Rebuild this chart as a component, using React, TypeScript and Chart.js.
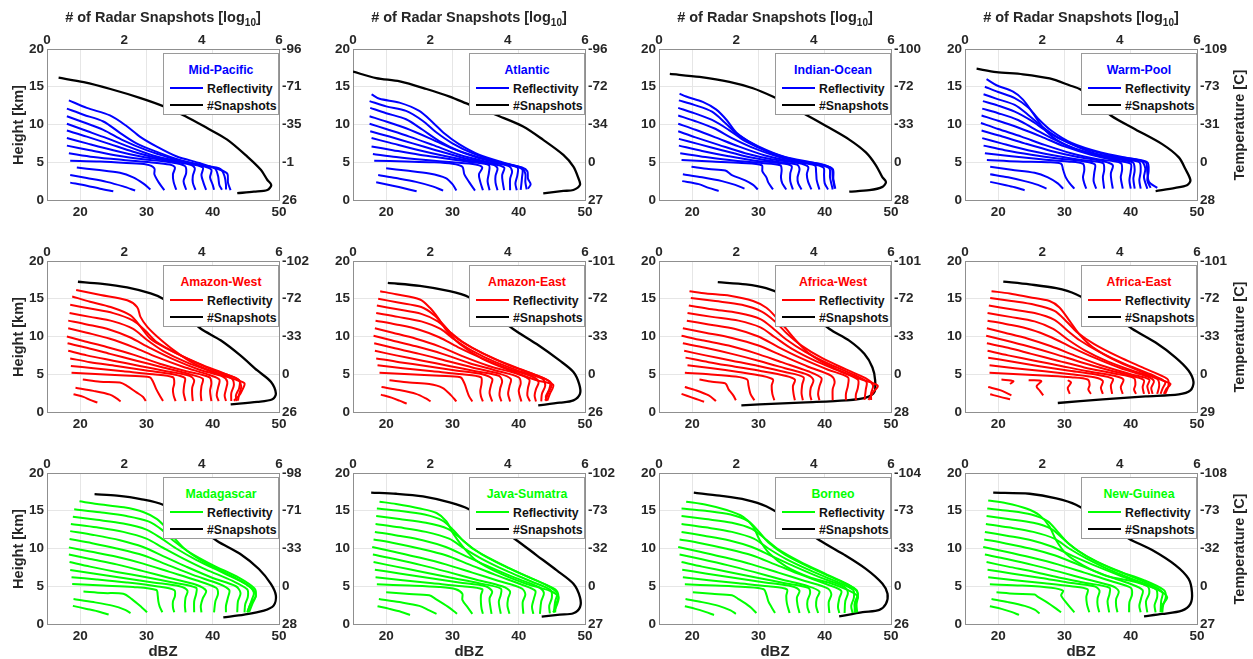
import { useEffect, useRef } from "react";
import { Chart, registerables } from "chart.js";

Chart.register(...registerables);

// ---------- axis ticks ----------
const dbzTicks = [20, 30, 40, 50];
const heightTicks = [0, 5, 10, 15, 20];
const snapshotTicks = [0, 2, 4, 6];

// ---------- data: reflectivity curves as [dBZ, km, dBZ, km, ...]; snapshots as [log10, km, ...] ----------
const midPacificRefl: number[][] = [
  [18.5, 2.3, 21, 1.9, 23, 1.5, 25, 1.15],
  [18.5, 3.3, 21, 2.9, 24, 2.4, 26.5, 1.8, 28.3, 1.25],
  [19.5, 4.3, 22.5, 4.0, 26, 3.6, 28, 3.0, 29.5, 2.2, 30.6, 1.4],
  [18.5, 5.2, 23, 5.1, 27, 4.9, 30, 4.7, 31.2, 4.2, 31.2, 3.4, 31.8, 2.4, 32.7, 1.3],
  [18.3, 6.2, 22, 5.7, 26.5, 5.3, 30.5, 5.0, 33.5, 4.7, 34.3, 4.3, 34, 3.4, 34.1, 2.4, 34.5, 1.35],
  [18, 7.2, 21.5, 6.6, 25.5, 5.9, 29.5, 5.4, 33.5, 5.0, 35.8, 4.5, 36, 3.6, 35.6, 2.5, 36, 1.35],
  [18, 8.2, 21, 7.5, 25, 6.6, 29, 5.8, 33, 5.2, 36.5, 4.7, 37.3, 4.2, 37, 3.2, 37, 2.3, 37.4, 1.35],
  [18, 9.2, 21, 8.4, 24.5, 7.4, 28, 6.4, 32, 5.5, 36, 4.9, 38.5, 4.3, 38.3, 3.3, 38.6, 2.3, 39, 1.35],
  [18, 10.1, 20.5, 9.3, 24, 8.2, 27.5, 7.0, 31, 5.9, 35, 5.1, 38.5, 4.5, 39.8, 4.0, 39.6, 3.0, 40, 2.0, 40.2, 1.35],
  [18, 11.1, 20.5, 10.3, 23.5, 9.3, 26.5, 7.9, 30, 6.6, 33.5, 5.6, 37, 4.8, 40.3, 4.2, 40.8, 3.2, 41, 2.0, 41.4, 1.35],
  [18, 12.1, 20.5, 11.3, 23.5, 10.4, 26, 8.9, 28.5, 7.5, 31.5, 6.4, 35, 5.3, 38.5, 4.6, 41.2, 4.1, 41.8, 3.1, 42, 2.0, 42, 1.4],
  [18.3, 13.2, 21, 12.2, 24.5, 11.2, 27, 9.8, 29, 8.4, 31.5, 7.1, 34.5, 5.8, 38, 4.9, 40.8, 4.1, 42.2, 3.5, 42.3, 2.3, 42.7, 1.3],
];
const midPacificSnap = [0.3, 16.2, 0.95, 15.6, 1.64, 14.7, 2.42, 13.5, 3.02, 12.4, 3.58, 11.1, 4.15, 9.5, 4.66, 8.0, 5.18, 5.75, 5.53, 4.0, 5.7, 2.65, 5.8, 2.0, 5.7, 1.33, 5.35, 1.1, 4.92, 0.9];
const midPacificTemp = ["26", "-1", "-35", "-71", "-96"];

const atlanticRefl: number[][] = [
  [18.5, 2.35, 21, 1.9, 23, 1.5, 24.6, 1.15],
  [18.8, 3.3, 21.5, 2.9, 24.5, 2.4, 27, 1.8, 28.6, 1.25],
  [20, 4.2, 23, 3.9, 26.5, 3.5, 29, 2.9, 30, 2.1, 30.6, 1.25],
  [18.2, 5.2, 23, 5.1, 27, 5.0, 30, 4.8, 31.5, 4.4, 31.8, 3.4, 32.5, 2.4, 33.4, 1.25],
  [18, 6.1, 21.5, 5.7, 26, 5.3, 30, 5.0, 33.5, 4.7, 34.5, 4.3, 34, 3.4, 34.2, 2.4, 34.6, 1.3],
  [17.8, 7.1, 21, 6.6, 25, 6.0, 29, 5.5, 33, 5.0, 35.5, 4.6, 35.5, 3.6, 35.3, 2.5, 35.6, 1.3],
  [17.8, 8.2, 20.5, 7.6, 24.5, 6.7, 28.5, 5.9, 32.5, 5.2, 36, 4.7, 36.8, 4.2, 36.5, 3.2, 36.5, 2.3, 36.8, 1.3],
  [17.6, 9.1, 20.5, 8.4, 24, 7.5, 27.5, 6.6, 31.5, 5.6, 35.5, 4.9, 37.8, 4.3, 37.5, 3.3, 37.6, 2.3, 37.8, 1.3],
  [17.5, 10.1, 20, 9.4, 23.5, 8.4, 27, 7.3, 31, 6.0, 35, 5.1, 38.5, 4.5, 39, 3.8, 38.7, 2.8, 38.7, 1.3],
  [17.5, 11.1, 20, 10.4, 23, 9.5, 26.5, 8.2, 30, 6.8, 33.5, 5.7, 37, 4.9, 39.8, 4.3, 39.8, 3.3, 39.5, 2.2, 39.7, 1.3],
  [17.6, 12.2, 20, 11.5, 23, 10.7, 25.5, 9.3, 28, 7.8, 31, 6.5, 35, 5.4, 38.5, 4.7, 40.5, 4.1, 40.5, 3.0, 40.3, 1.35],
  [17.5, 13.1, 20, 12.4, 23, 11.8, 25.5, 10.5, 27.5, 9.0, 30, 7.5, 33, 6.2, 37, 5.0, 40.3, 4.3, 41, 3.5, 41, 2.4, 41.2, 1.4],
  [17.8, 14.0, 19, 13.4, 22, 12.9, 25, 11.8, 27, 10.3, 28.8, 8.8, 31, 7.4, 34, 6.0, 37.5, 5.0, 40.5, 4.3, 41.3, 3.8, 41.4, 2.8, 41.8, 2.1, 41.4, 1.5],
];
const atlanticSnap = [0, 17.0, 0.6, 16.15, 1.21, 15.7, 1.9, 14.7, 2.5, 13.7, 3.02, 12.6, 3.8, 11.06, 4.4, 9.73, 4.92, 7.96, 5.44, 5.97, 5.7, 4.42, 5.83, 2.88, 5.87, 2.0, 5.7, 1.33, 5.44, 1.2, 4.92, 0.88];
const atlanticTemp = ["27", "0", "-34", "-72", "-96"];

const indianOceanRefl: number[][] = [
  [18.5, 2.5, 21, 2.1, 22.5, 1.6, 24, 1.2],
  [18.6, 3.4, 21.5, 3.0, 24.5, 2.5, 26.5, 2.0, 27.9, 1.5],
  [19.9, 4.4, 22.5, 4.1, 25, 3.9, 26, 3.3, 28, 2.6, 29.2, 2.0, 29.9, 1.4],
  [18.4, 5.3, 23, 5.1, 27.5, 4.9, 30.5, 4.6, 30.6, 3.8, 31.2, 3.0, 31.5, 2.3, 32.2, 1.4],
  [18.2, 6.2, 22, 5.7, 26.5, 5.2, 30.5, 4.9, 33.3, 4.6, 33.5, 4.0, 33.4, 3.0, 33.6, 2.2, 34.2, 1.4],
  [18, 7.2, 21.5, 6.5, 25.5, 5.8, 29.5, 5.2, 33, 4.9, 35, 4.5, 34.8, 3.5, 34.8, 2.5, 35.2, 1.4],
  [18, 8.1, 21, 7.4, 24.5, 6.6, 28.5, 5.7, 32.5, 5.1, 35.8, 4.7, 36.2, 4.1, 35.9, 3.0, 36, 2.2, 36.5, 1.4],
  [17.9, 9.1, 20.5, 8.3, 24, 7.3, 28, 6.2, 32, 5.4, 36, 4.9, 37.5, 4.4, 37.3, 3.4, 37.5, 2.4, 38, 1.4],
  [17.9, 10.1, 20.5, 9.3, 23.5, 8.3, 27, 7.1, 31, 5.9, 35, 5.1, 38.5, 4.6, 38.7, 3.7, 38.8, 2.6, 39.2, 1.4],
  [17.9, 11.2, 20.3, 10.5, 23.3, 9.5, 26, 8.2, 29.5, 6.8, 33.5, 5.6, 37.5, 4.9, 39.8, 4.3, 39.9, 3.3, 40, 2.2, 40.5, 1.4],
  [17.9, 12.2, 20.3, 11.5, 23, 10.6, 25.5, 9.3, 28, 7.8, 31.5, 6.4, 35.5, 5.3, 39, 4.7, 40.7, 4.2, 40.8, 3.0, 41.2, 1.4],
  [18, 13.2, 20.3, 12.6, 23, 11.7, 25, 10.2, 27, 8.6, 30, 7.1, 34, 5.7, 38.5, 4.9, 41, 4.2, 41.2, 3.0, 41.5, 1.5],
  [18.1, 14.1, 19.1, 13.7, 21.6, 13.0, 23.6, 12.0, 25.2, 10.6, 26.7, 8.9, 29.2, 7.4, 32.2, 6.1, 35.7, 5.2, 39.2, 4.8, 41.2, 4.1, 41.3, 2.8, 41.6, 1.5],
];
const indianOceanSnap = [0.28, 16.7, 1.05, 16.3, 1.82, 15.65, 2.43, 14.8, 2.94, 13.7, 3.4, 12.5, 3.8, 11.3, 4.32, 9.8, 4.92, 8.0, 5.35, 6.3, 5.61, 4.6, 5.78, 3.0, 5.87, 2.4, 5.78, 1.74, 5.44, 1.3, 4.92, 1.1];
const indianOceanTemp = ["28", "0", "-33", "-72", "-100"];

const warmPoolRefl: number[][] = [
  [18.8, 2.4, 21, 2.0, 22.5, 1.7, 24, 1.3],
  [18.8, 3.4, 21.5, 3.0, 24, 2.5, 26, 2.0, 27.3, 1.5],
  [18.8, 4.4, 22, 4.0, 25.5, 3.6, 27.5, 3.0, 29, 2.2, 29.8, 1.5],
  [18.3, 5.3, 23, 5.1, 27.5, 5.0, 29.5, 4.8, 29.8, 4.0, 30.2, 3.0, 30.8, 2.2, 31.5, 1.5],
  [18, 6.2, 22, 5.8, 26.5, 5.4, 30.5, 5.1, 32.8, 4.8, 33, 4.0, 32.8, 3.0, 33, 2.2, 33.3, 1.5],
  [17.8, 7.2, 21, 6.6, 25, 6.0, 29, 5.5, 33, 5.1, 34.6, 4.7, 34.5, 3.6, 34.4, 2.5, 34.8, 1.5],
  [17.6, 8.2, 20.5, 7.5, 24.5, 6.6, 28.5, 5.9, 32.5, 5.3, 35.8, 4.9, 36, 4.0, 35.8, 3.0, 36, 1.5],
  [17.5, 9.2, 20.3, 8.5, 24, 7.5, 28, 6.5, 32, 5.7, 36, 5.1, 37.3, 4.6, 37, 3.5, 37.1, 2.5, 37.3, 1.5],
  [17.4, 10.2, 20, 9.4, 23.5, 8.4, 27, 7.3, 31, 6.2, 35, 5.4, 38.5, 4.9, 38.7, 4.0, 38.5, 3.0, 38.8, 1.5],
  [17.5, 11.2, 20, 10.5, 23, 9.6, 26.5, 8.4, 30, 7.1, 34, 6.0, 38, 5.2, 40, 4.8, 40, 3.8, 39.8, 2.6, 40, 1.5],
  [17.6, 12.1, 20, 11.5, 23, 10.6, 25.5, 9.4, 28.5, 8.0, 32, 6.7, 36.5, 5.6, 40.3, 5.0, 40.6, 4.0, 40.4, 2.8, 40.6, 1.5],
  [17.7, 13.1, 20, 12.5, 22.5, 11.7, 25, 10.5, 27.5, 9.0, 30.5, 7.6, 34.5, 6.2, 39, 5.4, 41.3, 5.0, 41.5, 3.8, 41.3, 2.6, 41.5, 1.5],
  [17.8, 14.0, 19.8, 13.4, 22.5, 12.6, 24.5, 11.3, 26.5, 9.8, 29, 8.3, 33, 6.8, 37.5, 5.8, 41.5, 5.2, 42.2, 4.2, 42, 3.0, 42.5, 1.5],
  [18, 15.0, 20, 14.3, 22.5, 13.5, 24.5, 12.3, 26, 10.8, 28, 9.2, 31, 7.6, 35.5, 6.3, 40, 5.5, 42.5, 5.0, 42.7, 3.8, 42.5, 2.6, 43, 1.6],
  [18.25, 16, 19.75, 15.2, 22.25, 14.35, 23.75, 13.3, 25.25, 11.5, 26.75, 9.6, 28.75, 8.0, 31.75, 6.7, 35.75, 5.9, 39.75, 5.4, 42.25, 5.0, 42.5, 3.7, 42.75, 2.4, 44, 1.6],
];
const warmPoolSnap = [0.3, 17.4, 0.81, 16.95, 1.5, 16.65, 2.19, 16.1, 2.7, 15.2, 3.0, 14.6, 3.4, 12.9, 3.77, 11.2, 4.41, 9.35, 5.1, 7.4, 5.53, 5.65, 5.7, 4.1, 5.83, 2.6, 5.74, 1.96, 5.44, 1.6, 4.93, 1.17];
const warmPoolTemp = ["28", "0", "-31", "-73", "-109"];

const amazonWestRefl: number[][] = [
  [19, 2.35, 20.5, 2.0, 21.5, 1.6, 22.6, 1.25],
  [19.3, 3.2, 22, 2.8, 24.5, 2.3, 25.5, 1.8, 26.1, 1.4],
  [20.4, 4.3, 23, 4.0, 26, 3.9, 27, 3.5, 28.5, 2.6, 29.5, 2.0, 29.9, 1.45],
  [18.7, 5.2, 23, 5.0, 27.5, 4.8, 30.5, 4.6, 31, 4.0, 31.5, 3.0, 32, 2.2, 32.5, 1.45],
  [18.6, 6.1, 22, 5.8, 26.5, 5.4, 31, 5.0, 34, 4.6, 34.2, 3.8, 34, 3.0, 34.1, 2.2, 34.4, 1.45],
  [18.5, 7.1, 21.5, 6.6, 25.5, 6.1, 30, 5.5, 34, 5.0, 35.8, 4.5, 35.7, 3.6, 35.6, 2.6, 35.9, 1.45],
  [18.2, 8.1, 21, 7.5, 25, 6.8, 29, 6.1, 33, 5.4, 36.5, 4.8, 37.2, 4.2, 36.9, 3.2, 36.9, 2.3, 37, 1.45],
  [18.1, 9.1, 21, 8.5, 24.5, 7.7, 28.5, 6.8, 32.5, 5.9, 36.5, 5.0, 38.5, 4.4, 38.3, 3.4, 38.2, 2.4, 38.3, 1.45],
  [18, 10, 20.5, 9.4, 24, 8.6, 28, 7.6, 32, 6.4, 36, 5.4, 39.5, 4.6, 39.8, 3.8, 39.6, 2.8, 39.8, 1.45],
  [18.2, 11.1, 21, 10.5, 24.5, 9.7, 28, 8.6, 31.5, 7.3, 35.5, 6.0, 39.5, 4.9, 41, 4.3, 40.8, 3.2, 40.6, 2.2, 40.9, 1.45],
  [18.2, 12.1, 21, 11.6, 24.5, 10.9, 27.5, 9.9, 30.5, 8.5, 34, 7.0, 38, 5.6, 41.5, 4.7, 42.2, 4.0, 42, 3.0, 41.8, 2.2, 42, 1.45],
  [18.4, 13.1, 21.5, 12.6, 25, 12.0, 28, 11.0, 30, 9.6, 32.5, 8.1, 36, 6.6, 40, 5.3, 42.8, 4.5, 43.2, 3.6, 42.8, 2.5, 42.8, 1.45],
  [18.5, 14.2, 21.5, 13.7, 25, 13.1, 28, 12.1, 29.8, 10.8, 31.5, 9.3, 34.5, 7.8, 38.5, 6.2, 42, 5.0, 44, 4.2, 44, 3.2, 43.5, 2.2, 43.6, 1.45],
  [18.8, 15.3, 21.5, 14.6, 24.6, 13.9, 27.6, 12.8, 29.1, 11.3, 30.6, 9.7, 33.1, 8.4, 36.1, 7.1, 40.2, 5.5, 43.7, 4.4, 44.3, 3.4, 44, 2.4, 43.8, 1.5],
  [19.4, 16.15, 23.1, 15.5, 27.1, 14.8, 28.6, 13.9, 29.1, 12.6, 30.1, 11.3, 31.6, 10, 34.1, 8.2, 37.2, 6.4, 40.7, 5.1, 43.7, 4.2, 44.8, 3.8, 44.4, 2.8, 44, 2.2, 43.2, 1.5],
];
const amazonWestSnap = [0.8, 17.25, 1.38, 17.0, 2.07, 16.5, 2.68, 15.7, 3.0, 15.0, 3.5, 13.2, 3.97, 11.06, 4.49, 9.5, 5.0, 7.5, 5.44, 5.5, 5.79, 4.0, 5.92, 2.43, 5.83, 1.68, 5.44, 1.33, 4.75, 1.0];
const amazonWestTemp = ["26", "0", "-33", "-72", "-102"];

const amazonEastRefl: number[][] = [
  [19.2, 2.3, 20.8, 1.9, 22, 1.5, 23.1, 1.1],
  [19.3, 3.3, 22, 2.9, 24.5, 2.4, 26, 1.8, 26.7, 1.4],
  [20.5, 4.2, 23.5, 3.9, 26.5, 3.7, 28.5, 3.2, 29.8, 2.2, 30.6, 1.4],
  [19, 5.2, 23.5, 5.0, 28, 4.8, 31.2, 4.6, 31.8, 3.8, 32.2, 2.8, 32.5, 2.1, 33, 1.4],
  [18.7, 6.2, 22.5, 5.8, 27, 5.4, 31.5, 5.0, 34.3, 4.6, 34.4, 3.8, 34.2, 2.8, 34.3, 2.1, 34.6, 1.4],
  [18.5, 7.1, 22, 6.6, 26, 6.1, 30.5, 5.5, 34.5, 5.0, 36, 4.4, 35.8, 3.5, 35.6, 2.5, 36, 1.4],
  [18.3, 8.1, 21.5, 7.5, 25.5, 6.8, 29.5, 6.1, 33.5, 5.4, 37, 4.8, 37.5, 4.1, 37.2, 3.1, 37.1, 2.2, 37.4, 1.4],
  [18.2, 9.1, 21, 8.5, 25, 7.7, 29, 6.8, 33, 5.9, 37, 5.1, 38.8, 4.4, 38.6, 3.4, 38.4, 2.4, 38.7, 1.4],
  [18.1, 10.1, 20.8, 9.5, 24.5, 8.7, 28.5, 7.7, 32.5, 6.5, 36.5, 5.5, 40, 4.6, 40.3, 3.8, 40, 2.8, 40.4, 1.4],
  [18.3, 11.1, 21, 10.5, 24.5, 9.7, 28, 8.7, 31.5, 7.4, 35.5, 6.1, 40, 5.0, 41.6, 4.3, 41.4, 3.2, 41.3, 2.2, 41.7, 1.4],
  [18.4, 12.1, 21.5, 11.6, 25, 10.9, 28, 9.9, 30.8, 8.6, 34.5, 7.1, 38.5, 5.7, 42, 4.7, 43, 4.0, 42.6, 3.0, 42.4, 2.2, 42.6, 1.4],
  [18.5, 13.1, 21.8, 12.6, 25.3, 12.0, 28.2, 11.0, 30.3, 9.6, 33, 8.1, 36.5, 6.6, 40.5, 5.3, 43.6, 4.4, 44, 3.5, 43.5, 2.4, 43.4, 1.4],
  [18.6, 14.1, 21.7, 13.6, 25.3, 13.0, 27.8, 12.0, 29.5, 10.7, 31.5, 9.3, 34.5, 7.8, 38.5, 6.2, 42.5, 4.9, 44.7, 4.0, 44.6, 3.0, 44.1, 2.1, 44.2, 1.45],
  [18.8, 15, 21.8, 14.5, 25.3, 13.9, 27.3, 12.8, 28.7, 11.5, 30.3, 10.0, 33, 8.5, 36.5, 7.0, 40.5, 5.6, 44, 4.4, 45, 3.7, 44.5, 2.6, 44, 1.5],
  [19.1, 16, 21.5, 15.6, 25.1, 14.9, 26.6, 13.8, 27.8, 12.5, 29.1, 10.8, 31.1, 9.0, 34.6, 7.0, 38.7, 5.5, 42.7, 4.2, 45.2, 3.6, 44.7, 2.4, 44.3, 1.5],
];
const amazonEastSnap = [0.9, 17.1, 1.73, 16.7, 2.5, 16.0, 3.0, 15.2, 3.6, 13.2, 4.14, 11.0, 4.75, 9.0, 5.35, 6.8, 5.7, 5.3, 5.85, 3.7, 5.87, 2.4, 5.7, 1.54, 5.35, 1.23, 4.79, 0.88];
const amazonEastTemp = ["26", "0", "-33", "-72", "-101"];

const africaWestRefl: number[][] = [
  [18.4, 2.4, 20, 1.9, 21, 1.6, 21.8, 1.35],
  [18.9, 3.3, 20.5, 2.9, 22.5, 2.2, 23.6, 1.45],
  [21.1, 4.3, 23, 4.0, 25, 3.8, 25.5, 3.0, 26.2, 2.2, 26.6, 1.55],
  [18.9, 5.2, 22.5, 5.0, 26.5, 4.7, 28.3, 4.3, 28.5, 3.5, 28.8, 2.4, 29.4, 1.55],
  [19.3, 6.2, 23, 5.8, 27, 5.3, 30.5, 4.8, 32.2, 4.3, 32, 3.5, 32.1, 2.4, 32.4, 1.55],
  [19, 7.2, 22.5, 6.6, 26.5, 6.0, 30.5, 5.4, 34, 4.8, 35.5, 4.3, 35.2, 3.4, 35.3, 2.4, 35.5, 1.55],
  [18.8, 8.1, 22, 7.5, 26, 6.8, 30, 6.1, 34, 5.3, 36.8, 4.6, 36.6, 3.6, 36.5, 2.5, 36.7, 1.55],
  [18.6, 9.1, 22, 8.5, 26, 7.7, 30, 6.8, 34, 5.8, 37.5, 4.9, 38.3, 4.2, 37.9, 3.2, 37.8, 2.3, 38, 1.55],
  [18.4, 10.1, 21.5, 9.5, 25.5, 8.8, 29.5, 7.8, 33.5, 6.6, 37.5, 5.4, 39.5, 4.5, 39.2, 3.4, 39, 2.4, 39.2, 1.55],
  [18.6, 11.1, 22, 10.5, 26, 9.8, 30, 8.8, 33.5, 7.5, 37.5, 6.0, 41, 4.8, 41.5, 4.0, 41.2, 3.0, 41.2, 1.55],
  [19.2, 12.1, 22.5, 11.6, 26.5, 11.0, 30, 10.0, 33, 8.6, 36.5, 7.1, 40.5, 5.6, 43.5, 4.6, 43.5, 3.5, 43.2, 2.4, 43.2, 1.55],
  [19.3, 13.1, 23, 12.6, 27, 12.1, 30.3, 11.2, 32.5, 9.9, 35, 8.4, 38.5, 6.8, 42.5, 5.3, 45, 4.3, 45, 3.2, 44.7, 2.3, 44.7, 1.55],
  [19.5, 14.1, 23, 13.6, 27, 13.1, 30.3, 12.3, 32.3, 11.0, 34.2, 9.6, 37, 8.0, 40.8, 6.3, 44.5, 4.9, 46.3, 4.0, 46.2, 3.0, 46, 1.6],
  [19.8, 15.1, 23.5, 14.7, 27.5, 14.2, 30.5, 13.3, 32.5, 12.0, 34.3, 10.4, 36.5, 8.8, 39.5, 7.2, 43.3, 5.6, 46.5, 4.3, 47.3, 3.5, 47, 2.5, 47, 1.6],
  [19.6, 16.0, 22.1, 15.7, 25.7, 15.4, 29.2, 14.7, 31.2, 13.8, 32.7, 12.5, 34.2, 11, 35.7, 9.45, 37.7, 7.7, 41.2, 5.9, 45.3, 4.4, 48, 3.5, 47.3, 2.6, 46.6, 1.6],
];
const africaWestSnap = [1.52, 17.2, 2.25, 16.9, 2.77, 16.4, 3.2, 15.5, 3.8, 13.5, 4.41, 11.0, 4.92, 9.45, 5.31, 7.7, 5.52, 5.9, 5.59, 4.2, 5.57, 2.64, 5.35, 1.9, 4.84, 1.54, 3.8, 1.27, 2.6, 1.0, 2.13, 0.88];
const africaWestTemp = ["28", "0", "-33", "-72", "-101"];

const africaEastRefl: number[][] = [
  [18.8, 2.35, 20.3, 2.0, 21.8, 1.7],
  [18.5, 3.3, 20.3, 2.9, 22, 2.2],
  [20.5, 4.3, 22.3, 4.1, 21.8, 3.7],
  [24.6, 4.2, 26.5, 4.1, 25.8, 3.4, 26.3, 2.8, 26.8, 2.2],
  [30.5, 4.2, 31, 3.9, 30.5, 3.2, 30.8, 2.4],
  [18.7, 5.2, 23, 5.0, 27.5, 4.8, 31, 4.6, 33.5, 4.3, 33.8, 3.6, 33.6, 3.0, 34, 2.4],
  [18.7, 6.2, 22.5, 5.8, 27, 5.4, 31, 5.0, 34.5, 4.6, 35.8, 4.1, 35.5, 3.2, 35.8, 2.4],
  [18.5, 7.2, 22, 6.7, 26, 6.1, 30.5, 5.5, 34.5, 5.0, 37.3, 4.4, 37, 3.5, 37.2, 2.4],
  [18.4, 8.1, 21.5, 7.5, 25.5, 6.8, 29.5, 6.1, 33.5, 5.4, 37.5, 4.8, 38.9, 4.3, 38.5, 3.3, 38.8, 2.4],
  [18.3, 9.1, 21.5, 8.5, 25, 7.7, 29, 6.8, 33, 5.9, 37.5, 5.1, 40.5, 4.5, 40.7, 3.6, 40.5, 3.0, 40.8, 2.4],
  [18.2, 10.1, 21, 9.5, 24.5, 8.7, 28.5, 7.7, 32.5, 6.6, 36.5, 5.6, 40.5, 4.7, 42, 4.2, 41.8, 3.3, 42, 2.4],
  [18.3, 11.1, 21, 10.5, 24.5, 9.7, 28, 8.7, 31.5, 7.5, 35.5, 6.2, 40, 5.0, 42.8, 4.3, 42.5, 3.4, 42.8, 2.4],
  [18.4, 12.1, 21.5, 11.6, 25, 10.9, 28, 9.9, 31, 8.6, 34.5, 7.2, 38.5, 5.8, 42.5, 4.7, 43.5, 4.1, 43.1, 3.2, 43.3, 2.4],
  [18.4, 13.1, 21.8, 12.6, 25.5, 12.0, 28.3, 11.0, 30.5, 9.6, 33, 8.2, 36.5, 6.7, 40.5, 5.4, 44, 4.4, 44.3, 3.5, 44, 2.4],
  [18.6, 14.1, 22, 13.6, 25.5, 13.1, 28.5, 12.2, 30.3, 10.9, 32.3, 9.5, 35.2, 8.0, 39, 6.4, 43, 5.0, 45.2, 4.0, 44.8, 3.1, 44.5, 2.4],
  [18.8, 15.1, 22, 14.7, 25.5, 14.2, 28.5, 13.4, 30.3, 12.0, 32, 10.5, 34.5, 9.0, 38, 7.4, 42, 5.8, 45.5, 4.4, 45.7, 3.5, 45.2, 2.4],
  [19, 16, 21.75, 15.7, 24.75, 15.2, 27.75, 14.7, 29.25, 13.85, 30.75, 12.1, 32.25, 10.3, 34.25, 8.6, 37.75, 6.8, 41.75, 5.3, 44.75, 4.2, 46, 3.7, 45.4, 3.1, 45, 2.4],
];
const africaEastSnap = [0.99, 17.27, 1.67, 16.9, 2.36, 16.4, 2.87, 15.6, 3.6, 13.5, 4.33, 11.0, 4.93, 9.2, 5.44, 7.25, 5.78, 5.5, 5.91, 3.96, 5.83, 2.86, 5.53, 2.33, 4.67, 2.07, 3.56, 1.67, 2.4, 1.19];
const africaEastTemp = ["29", "0", "-33", "-72", "-101"];

const madagascarRefl: number[][] = [
  [18.9, 2.4, 21, 2.0, 23, 1.6, 24.3, 1.25],
  [19, 3.3, 22, 2.9, 25, 2.4, 26.7, 1.9, 27.6, 1.45],
  [20.5, 4.3, 23.5, 4.1, 26.5, 4.0, 27.8, 3.3, 29.3, 2.2, 30.1, 1.55],
  [18.8, 5.3, 23.5, 5.1, 28, 4.9, 31.5, 4.5, 31.7, 3.8, 31.8, 3.0, 32, 2.3, 32.4, 1.55],
  [18.7, 6.2, 22.5, 5.9, 27, 5.5, 31.5, 5.0, 34.2, 4.5, 34.3, 3.7, 34, 3.0, 34, 2.2, 34.2, 1.55],
  [18.5, 7.15, 22, 6.7, 26.5, 6.1, 31, 5.5, 35, 5.0, 36.2, 4.4, 35.9, 3.5, 35.8, 2.5, 35.9, 1.55],
  [18.4, 8.2, 21.5, 7.6, 25.5, 6.9, 30, 6.2, 34, 5.5, 37.5, 4.8, 37.5, 4.0, 37.2, 3.0, 37.2, 1.55],
  [18.3, 9.2, 21.5, 8.6, 25.5, 7.9, 29.5, 7.0, 33.5, 6.1, 37.5, 5.2, 39, 4.4, 38.5, 3.4, 38.2, 2.4, 38.3, 1.55],
  [18.3, 10.15, 21.5, 9.6, 25.5, 8.9, 29.5, 8.0, 33.5, 6.9, 37.5, 5.8, 40.5, 4.8, 40.8, 4.0, 40.4, 3.0, 40.2, 1.55],
  [18.4, 11.25, 21.8, 10.7, 25.5, 10.0, 29.5, 9.1, 33, 7.9, 37, 6.5, 41, 5.3, 42.5, 4.5, 42.3, 3.5, 42, 2.4, 42, 1.55],
  [18.5, 12.3, 22, 11.8, 26, 11.1, 29.5, 10.2, 32.5, 9.0, 36, 7.6, 40, 6.1, 43.5, 5.0, 44.2, 4.1, 43.8, 3.0, 43.7, 1.55],
  [18.6, 13.25, 22.5, 12.8, 26.5, 12.2, 30, 11.3, 32.5, 10.1, 35.5, 8.7, 39, 7.2, 43, 5.7, 45.2, 4.6, 45.3, 3.6, 44.9, 2.6, 44.8, 1.55],
  [18.9, 14.2, 22.5, 13.8, 26.5, 13.3, 30, 12.5, 32.3, 11.3, 34.5, 10.0, 37.5, 8.5, 41.5, 6.8, 45, 5.3, 46.2, 4.2, 45.9, 3.2, 45.5, 2.2, 45.3, 1.55],
  [19.1, 15.2, 23, 14.8, 27, 14.3, 30.3, 13.6, 32.3, 12.5, 34, 11.1, 36.5, 9.5, 40, 7.8, 44, 6.1, 46.3, 4.7, 46.5, 3.7, 46, 2.7, 45.5, 1.6],
  [19.9, 16.25, 22.55, 15.9, 26.6, 15.45, 29.6, 14.8, 31.6, 13.9, 32.9, 12.8, 34.1, 11.5, 36.1, 9.7, 39.2, 7.95, 43.2, 6.2, 45.7, 4.86, 46.5, 3.75, 45.7, 2.65, 45.2, 1.55],
];
const madagascarSnap = [1.23, 17.2, 1.81, 17.0, 2.42, 16.55, 3.0, 15.8, 3.7, 13.6, 4.4, 11.0, 5.0, 9.27, 5.48, 7.28, 5.79, 5.3, 5.92, 3.75, 5.86, 2.43, 5.61, 1.77, 5.1, 1.24, 4.56, 0.88];
const madagascarTemp = ["28", "0", "-33", "-71", "-98"];

const javaSumatraRefl: number[][] = [
  [18.7, 2.35, 20.5, 2.0, 22.3, 1.6, 23.6, 1.2],
  [18.9, 3.3, 22, 2.9, 25, 2.4, 26.5, 1.8, 27.6, 1.35],
  [20, 4.2, 23, 4.0, 26.5, 3.8, 27.5, 3.3, 29.3, 2.3, 30.5, 1.5, 30.7, 1.35],
  [18.6, 5.25, 23.5, 5.1, 28, 4.9, 30.5, 4.6, 31.5, 4.0, 31.5, 3.2, 32.3, 2.2, 33, 1.35],
  [18.4, 6.2, 22.5, 5.8, 27, 5.4, 31.5, 5.0, 34.5, 4.6, 34.3, 3.8, 34.3, 2.8, 34.4, 2.0, 34.6, 1.35],
  [18.3, 7.2, 22, 6.7, 26.5, 6.1, 31, 5.5, 35, 5.0, 36, 4.3, 35.6, 3.4, 35.7, 2.4, 35.9, 1.35],
  [18.1, 8.2, 21.5, 7.6, 25.5, 6.9, 30, 6.1, 34, 5.4, 37.3, 4.7, 37.3, 3.9, 37, 3.0, 37.1, 2.2, 37.3, 1.35],
  [18, 9.2, 21.3, 8.6, 25.3, 7.8, 29.3, 6.9, 33.5, 5.9, 37.5, 5.0, 38.7, 4.3, 38.4, 3.4, 38.3, 2.4, 38.6, 1.35],
  [17.9, 10.2, 21, 9.6, 25, 8.8, 29, 7.9, 33, 6.8, 37, 5.7, 40.5, 4.7, 41, 3.9, 40.6, 2.9, 40.7, 1.35],
  [18.1, 11.2, 21.3, 10.7, 25, 10.0, 29, 9.1, 32.5, 7.9, 36.5, 6.5, 40.5, 5.2, 42.5, 4.4, 42.3, 3.4, 42, 2.3, 42.2, 1.35],
  [18.3, 12.2, 21.8, 11.7, 25.5, 11.1, 29, 10.2, 32, 9.0, 35.5, 7.6, 39.5, 6.1, 43, 4.9, 43.8, 4.1, 43.4, 3.0, 43.2, 1.35],
  [18.4, 13.25, 22, 12.8, 26, 12.2, 29.5, 11.3, 31.8, 10.0, 34.5, 8.6, 38, 7.1, 42, 5.6, 44.8, 4.5, 45, 3.5, 44.6, 2.4, 44.7, 1.4],
  [18.5, 14.3, 22, 13.9, 26, 13.4, 29.3, 12.6, 31.3, 11.3, 33.2, 9.9, 36.5, 8.3, 40.5, 6.6, 44.3, 5.1, 45.8, 4.1, 45.5, 3.0, 45.3, 1.5],
  [18.6, 15.3, 22, 15.0, 25.8, 14.5, 28.5, 13.7, 30.2, 12.4, 31.8, 10.9, 34.5, 9.2, 38.5, 7.4, 42.5, 5.8, 45.5, 4.6, 46, 3.6, 45.6, 2.5, 45.5, 1.55],
  [19, 16.2, 21.5, 15.9, 25.1, 15.3, 27.6, 14.7, 29.1, 13.6, 30.1, 12, 31.6, 10.2, 33.6, 8.4, 37.2, 6.7, 41.2, 5.3, 44.7, 4.4, 46, 3.55, 45.7, 2.4, 45.2, 1.55],
];
const javaSumatraSnap = [0.47, 17.4, 1.12, 17.25, 1.81, 16.9, 2.5, 16.1, 3.0, 15.2, 3.6, 13.3, 4.23, 11.1, 4.75, 9.1, 5.27, 7.1, 5.7, 5.33, 5.87, 3.55, 5.87, 2.22, 5.7, 1.42, 5.35, 1.24, 4.88, 0.98];
const javaSumatraTemp = ["27", "0", "-32", "-73", "-102"];

const borneoRefl: number[][] = [
  [18.9, 2.35, 20.5, 2.0, 22, 1.6, 23.3, 1.2],
  [19, 3.3, 21.5, 2.9, 24, 2.4, 25.8, 1.8, 26.6, 1.35],
  [20.1, 4.2, 23, 4.0, 26, 3.8, 27, 3.3, 28.7, 2.3, 29.7, 1.45],
  [18.9, 5.25, 23.5, 5.1, 28, 4.9, 30.8, 4.6, 31.2, 3.9, 31.5, 3.0, 32, 2.2, 32.5, 1.45],
  [18.6, 6.2, 22.5, 5.8, 27, 5.4, 31.5, 5.0, 34.3, 4.6, 34.2, 3.7, 34.3, 2.7, 34.7, 1.45],
  [18.5, 7.2, 22, 6.7, 26.5, 6.1, 31, 5.5, 35, 5.0, 36.2, 4.4, 35.8, 3.5, 35.9, 2.5, 36.2, 1.45],
  [18.4, 8.2, 21.5, 7.6, 25.5, 6.9, 30, 6.1, 34, 5.4, 37.5, 4.8, 37.8, 4.1, 37.4, 3.1, 37.4, 2.2, 37.7, 1.45],
  [18.1, 9.2, 21.3, 8.6, 25.3, 7.8, 29.3, 6.9, 33.5, 5.9, 37.5, 5.0, 39.2, 4.3, 38.8, 3.4, 38.7, 2.4, 39, 1.45],
  [17.9, 10.2, 21, 9.6, 25, 8.8, 29, 7.9, 33, 6.8, 37, 5.7, 40.5, 4.7, 41, 3.9, 40.6, 2.9, 40.7, 1.45],
  [18.1, 11.2, 21.3, 10.7, 25, 10.0, 29, 9.1, 32.5, 7.9, 36.5, 6.5, 40.5, 5.2, 42.5, 4.4, 42.2, 3.4, 42, 2.3, 42.2, 1.45],
  [18.4, 12.2, 21.8, 11.7, 25.5, 11.1, 29, 10.2, 32, 9.0, 35.5, 7.6, 39.5, 6.1, 43, 4.9, 43.5, 4.1, 43.1, 3.0, 43, 1.45],
  [18.4, 13.25, 22, 12.8, 26, 12.2, 29.3, 11.3, 31.5, 10.0, 34.2, 8.6, 37.8, 7.1, 41.8, 5.6, 44.3, 4.5, 44.4, 3.5, 44, 2.4, 44.2, 1.45],
  [18.4, 14.3, 22, 13.9, 26, 13.4, 29, 12.6, 31, 11.3, 33, 9.9, 36.2, 8.3, 40.2, 6.6, 44, 5.0, 45, 4.0, 44.6, 3.0, 44.5, 1.5],
  [18.4, 15.3, 22, 15.0, 25.8, 14.5, 28.5, 13.6, 30, 12.3, 31.5, 10.8, 34, 9.2, 38, 7.4, 42, 5.8, 44.8, 4.5, 45, 3.6, 44.8, 2.6, 44.9, 1.55],
  [19.1, 16.2, 22.1, 15.8, 25.2, 15.1, 27.7, 14.2, 29.2, 12.9, 30.2, 11.1, 31.7, 9.3, 34.2, 7.6, 37.7, 6.2, 41.2, 5.3, 44.2, 4.2, 45, 3.55, 44.5, 2.67, 44.7, 1.55],
];
const borneoSnap = [0.9, 17.4, 1.57, 17.0, 2.25, 16.45, 2.77, 15.6, 3.5, 13.4, 4.15, 11.1, 4.75, 9.3, 5.35, 7.3, 5.78, 5.33, 5.91, 4.0, 5.87, 2.67, 5.7, 1.87, 5.27, 1.56, 4.66, 1.0];
const borneoTemp = ["26", "0", "-33", "-73", "-104"];

const newGuineaRefl: number[][] = [
  [18.75, 2.35, 20.5, 2.0, 22, 1.6, 23.15, 1.2],
  [19, 3.3, 21.5, 2.9, 24, 2.4, 25.5, 1.9, 26.25, 1.4],
  [19.75, 4.2, 22.5, 4.0, 25.5, 3.9, 26, 3.6, 27.5, 2.8, 28.8, 2.0, 29.5, 1.55],
  [18.75, 5.25, 23.5, 5.1, 28, 4.8, 29.8, 4.4, 29.5, 3.8, 30.3, 2.8, 31.5, 1.55],
  [18.5, 6.2, 22.5, 5.8, 27, 5.4, 31, 5.0, 33.5, 4.6, 33.3, 3.6, 33.4, 2.6, 33.75, 1.55],
  [18.4, 7.2, 22, 6.7, 26.5, 6.1, 30.5, 5.5, 34.5, 5.0, 35.3, 4.4, 35, 3.4, 35, 2.5, 35.25, 1.55],
  [18.25, 8.2, 21.5, 7.6, 25.5, 6.9, 29.5, 6.1, 33.5, 5.4, 36.8, 4.8, 36.8, 4.0, 36.5, 3.0, 36.75, 1.55],
  [18, 9.2, 21.3, 8.6, 25.3, 7.8, 29.3, 6.9, 33.5, 5.9, 37.3, 5.0, 38.2, 4.3, 37.8, 3.3, 37.8, 2.4, 38, 1.55],
  [17.75, 10.2, 21, 9.6, 25, 8.8, 29, 7.9, 33, 6.8, 37, 5.7, 40, 4.8, 40.2, 3.9, 39.8, 2.9, 39.75, 1.55],
  [17.9, 11.2, 21, 10.7, 24.8, 10.0, 28.5, 9.1, 32, 7.9, 36, 6.5, 40, 5.3, 41.8, 4.5, 41.6, 3.5, 41.3, 2.4, 41.5, 1.55],
  [18, 12.2, 21.3, 11.7, 25, 11.1, 28.3, 10.2, 31.3, 9.0, 35, 7.6, 39, 6.2, 42.5, 5.0, 42.8, 4.1, 42.3, 3.0, 42.5, 1.55],
  [18.15, 13.25, 21.5, 12.8, 25.3, 12.2, 28.5, 11.3, 30.7, 10.0, 33.5, 8.6, 37, 7.1, 41, 5.7, 43.8, 4.6, 44, 3.6, 43.6, 2.5, 43.75, 1.55],
  [18.25, 14.3, 21.5, 13.9, 25.3, 13.4, 28, 12.6, 29.8, 11.3, 31.7, 9.9, 34.8, 8.3, 39, 6.7, 43, 5.2, 44.8, 4.2, 44.6, 3.1, 44.5, 1.55],
  [18.35, 15.3, 21.5, 15.0, 25, 14.5, 27.5, 13.6, 29, 12.2, 30.7, 10.6, 33.5, 8.9, 37.5, 7.2, 42, 5.8, 45, 4.5, 45.3, 3.6, 44.9, 2.5, 44.75, 1.55],
  [18.5, 16.35, 21.25, 16.0, 24.25, 15.3, 26.25, 14.4, 27.75, 12.9, 28.75, 11.1, 30.25, 9.3, 32.75, 7.8, 36.25, 6.4, 40.75, 5.55, 44.25, 4.45, 45.5, 3.55, 44.75, 2.45, 44.75, 1.55],
];
const newGuineaSnap = [0.73, 17.4, 1.67, 17.25, 2.36, 16.65, 2.87, 15.8, 3.6, 13.5, 4.24, 11.3, 4.84, 9.8, 5.44, 7.8, 5.78, 6.0, 5.87, 4.2, 5.83, 2.67, 5.61, 1.78, 5.1, 1.33, 4.63, 1.02];
const newGuineaTemp = ["27", "0", "-32", "-73", "-108"];

const regionNames = [
  "Mid-Pacific", "Atlantic", "Indian-Ocean", "Warm-Pool",
  "Amazon-West", "Amazon-East", "Africa-West", "Africa-East",
  "Madagascar", "Java-Sumatra", "Borneo", "New-Guinea",
];
const rowColors = ["#0000ff", "#ff0000", "#00ff00"];

type Region = { name: string; color: string; refl: number[][]; snap: number[]; temps: string[] };

const regions: Region[] = [
  { refl: midPacificRefl, snap: midPacificSnap, temps: midPacificTemp },
  { refl: atlanticRefl, snap: atlanticSnap, temps: atlanticTemp },
  { refl: indianOceanRefl, snap: indianOceanSnap, temps: indianOceanTemp },
  { refl: warmPoolRefl, snap: warmPoolSnap, temps: warmPoolTemp },
  { refl: amazonWestRefl, snap: amazonWestSnap, temps: amazonWestTemp },
  { refl: amazonEastRefl, snap: amazonEastSnap, temps: amazonEastTemp },
  { refl: africaWestRefl, snap: africaWestSnap, temps: africaWestTemp },
  { refl: africaEastRefl, snap: africaEastSnap, temps: africaEastTemp },
  { refl: madagascarRefl, snap: madagascarSnap, temps: madagascarTemp },
  { refl: javaSumatraRefl, snap: javaSumatraSnap, temps: javaSumatraTemp },
  { refl: borneoRefl, snap: borneoSnap, temps: borneoTemp },
  { refl: newGuineaRefl, snap: newGuineaSnap, temps: newGuineaTemp },
].map((r, i) => ({ ...r, name: regionNames[i], color: rowColors[Math.floor(i / 4)] }));

// ---------- layout ----------
const FONT = '"Liberation Sans", Arial, Helvetica, sans-serif';
const PLOT_W = 232;
const PLOT_H = 151;
const AX_W = 40;
const AX_H = 24;
const colLeft = [47, 353, 659, 965];
const rowTop = [49, 261, 473];
const TEXT = "#262626";

function toXY(flat: number[]) {
  const pts: { x: number; y: number }[] = [];
  for (let i = 0; i < flat.length; i += 2) pts.push({ x: flat[i], y: flat[i + 1] });
  return pts;
}

function Panel({ region, row, col }: { region: Region; row: number; col: number }) {
  const ref = useRef<HTMLCanvasElement | null>(null);
  const left = colLeft[col];
  const top = rowTop[row];
  const cw = PLOT_W + 2 * AX_W;
  const ch = PLOT_H + 2 * AX_H;

  useEffect(() => {
    if (!ref.current) return;
    const tickFont = { family: FONT, size: 13.5, weight: "bold" as const };
    const borderColor = "#8f8f8f";
    const gridColor = "#e6e6e6";
    const datasets: any[] = region.refl.map((c, i) => ({
      label: i === 0 ? "Reflectivity" : "Reflectivity " + (i + 1),
      data: toXY(c),
      xAxisID: "x",
      yAxisID: "y",
      borderColor: region.color,
      backgroundColor: region.color,
      borderWidth: 2,
      pointRadius: 0,
      showLine: true,
      tension: 0.3,
      fill: false,
    }));
    datasets.push({
      label: "#Snapshots",
      data: toXY(region.snap),
      xAxisID: "x2",
      yAxisID: "y",
      borderColor: "#000000",
      backgroundColor: "#000000",
      borderWidth: 2.3,
      pointRadius: 0,
      showLine: true,
      tension: 0.3,
      fill: false,
    });
    const chart = new Chart(ref.current, {
      type: "scatter",
      data: { datasets },
      options: {
        animation: false,
        responsive: false,
        devicePixelRatio: 1,
        events: [],
        layout: { padding: 0 },
        plugins: { legend: { display: false }, tooltip: { enabled: false } },
        scales: {
          x: {
            type: "linear",
            position: "bottom",
            min: 15,
            max: 50,
            afterBuildTicks: (s: any) => {
              s.ticks = dbzTicks.map((v) => ({ value: v }));
            },
            afterFit: (s: any) => {
              s.height = AX_H;
            },
            grid: { color: gridColor, drawTicks: false },
            border: { color: borderColor, width: 1 },
            ticks: { font: tickFont, color: TEXT, padding: 4, maxRotation: 0, autoSkip: false },
          },
          x2: {
            type: "linear",
            position: "top",
            min: 0,
            max: 6,
            afterBuildTicks: (s: any) => {
              s.ticks = snapshotTicks.map((v) => ({ value: v }));
            },
            afterFit: (s: any) => {
              s.height = AX_H;
            },
            grid: { display: false, drawTicks: false },
            border: { color: borderColor, width: 1 },
            ticks: { font: tickFont, color: TEXT, padding: 1, maxRotation: 0, autoSkip: false },
          },
          y: {
            type: "linear",
            position: "left",
            min: 0,
            max: 20,
            afterBuildTicks: (s: any) => {
              s.ticks = heightTicks.map((v) => ({ value: v }));
            },
            afterFit: (s: any) => {
              s.width = AX_W;
            },
            grid: { color: gridColor, drawTicks: false },
            border: { color: borderColor, width: 1 },
            ticks: { font: tickFont, color: TEXT, padding: 3, autoSkip: false },
          },
          y2: {
            type: "linear",
            position: "right",
            min: 0,
            max: 20,
            afterBuildTicks: (s: any) => {
              s.ticks = heightTicks.map((v) => ({ value: v }));
            },
            afterFit: (s: any) => {
              s.width = AX_W;
            },
            grid: { display: false, drawTicks: false },
            border: { color: borderColor, width: 1 },
            ticks: {
              font: tickFont,
              color: TEXT,
              padding: 3,
              autoSkip: false,
              callback: (_v: any, i: number) => region.temps[i],
            },
          },
        },
      } as any,
    });
    return () => chart.destroy();
  }, [region]);

  const legendLeft = left + PLOT_W / 2;
  const legendTop = top + 4;
  const legendFont = { fontFamily: FONT, fontWeight: 700, fontSize: 12.3 } as const;

  return (
    <>
      <canvas
        ref={ref}
        width={cw}
        height={ch}
        style={{ position: "absolute", left: left - AX_W, top: top - AX_H, width: cw, height: ch }}
      />
      <div
        style={{
          position: "absolute",
          left: legendLeft,
          top: legendTop,
          width: PLOT_W / 2,
          height: 62,
          boxSizing: "border-box",
          border: "1px solid #9a9a9a",
          background: "#ffffff",
          ...legendFont,
        }}
      >
        <div
          style={{
            position: "absolute",
            left: 0,
            right: 0,
            top: 8,
            height: 16,
            lineHeight: "16px",
            textAlign: "center",
            color: region.color,
          }}
        >
          {region.name}
        </div>
        {[
          { label: "Reflectivity", color: region.color, y: 35 },
          { label: "#Snapshots", color: "#000000", y: 52 },
        ].map((e) => (
          <div key={e.label}>
            <div
              style={{
                position: "absolute",
                left: 6,
                top: e.y - 2,
                width: 33,
                height: 2.3,
                background: e.color,
              }}
            />
            <div
              style={{
                position: "absolute",
                left: 43,
                top: e.y - 8,
                height: 16,
                lineHeight: "16px",
                color: "#111111",
                whiteSpace: "nowrap",
              }}
            >
              {e.label}
            </div>
          </div>
        ))}
      </div>
    </>
  );
}

export default function App() {
  const titleStyle = {
    position: "absolute" as const,
    fontFamily: FONT,
    fontWeight: 700,
    fontSize: 14.5,
    color: TEXT,
    whiteSpace: "nowrap" as const,
    textAlign: "center" as const,
  };
  return (
    <div
      style={{
        position: "absolute",
        left: 0,
        top: 0,
        width: 1253,
        height: 659,
        background: "#ffffff",
        overflow: "hidden",
      }}
    >
      {regions.map((r, i) => (
        <Panel key={r.name} region={r} row={Math.floor(i / 4)} col={i % 4} />
      ))}
      {colLeft.map((l, c) => (
        <div key={"tt" + c} style={{ ...titleStyle, left: l - 30, width: PLOT_W + 60, top: 7, height: 20, lineHeight: "20px" }}>
          # of Radar Snapshots [log
          <sub style={{ fontSize: 10, lineHeight: 0, verticalAlign: "-4px" }}>10</sub>]
        </div>
      ))}
      {colLeft.map((l, c) => (
        <div key={"bt" + c} style={{ ...titleStyle, left: l, width: PLOT_W, top: 641, height: 20, lineHeight: "20px", fontSize: 15 }}>
          dBZ
        </div>
      ))}
      {rowTop.map((t, r) => (
        <div
          key={"hl" + r}
          style={{
            ...titleStyle,
            left: 18 - 80,
            top: t + PLOT_H / 2 - 10,
            width: 160,
            height: 20,
            lineHeight: "20px",
            transform: "rotate(-90deg)",
          }}
        >
          Height [km]
        </div>
      ))}
      {rowTop.map((t, r) => (
        <div
          key={"tr" + r}
          style={{
            ...titleStyle,
            left: 1239 - 80,
            top: t + PLOT_H / 2 - 10,
            width: 160,
            height: 20,
            lineHeight: "20px",
            transform: "rotate(-90deg)",
          }}
        >
          Temperature [C]
        </div>
      ))}
    </div>
  );
}
